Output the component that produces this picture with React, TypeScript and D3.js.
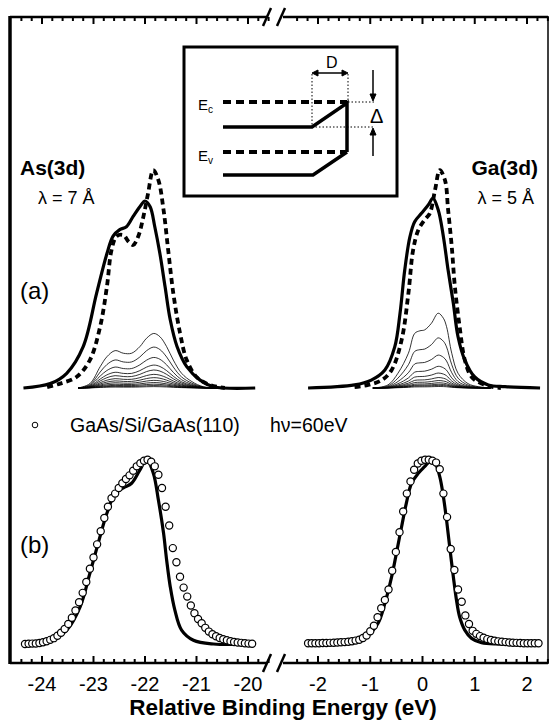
import React from "react";
import * as d3 from "d3";

// ---- panel (a): As(3d) ----
const asSolidE = [-24.36, -23.84, -23.52, -23.2, -22.94, -22.74, -22.62, -22.49, -22.36, -22.23, -22.1, -22.0, -21.9, -21.81, -21.71, -21.61, -21.51, -21.38, -21.19, -20.93, -20.67, -19.86];
const asSolidI = [0, 0.02, 0.067, 0.188, 0.43, 0.61, 0.69, 0.72, 0.733, 0.78, 0.824, 0.85, 0.824, 0.733, 0.61, 0.46, 0.31, 0.19, 0.097, 0.036, 0.006, 0];
const asDashE = [-23.9, -23.65, -23.33, -23.07, -22.87, -22.74, -22.65, -22.55, -22.42, -22.32, -22.23, -22.13, -22.03, -21.94, -21.84, -21.74, -21.64, -21.55, -21.45, -21.32, -21.19, -21.0, -20.8, -20.61, -20.45];
const asDashI = [0.004, 0.02, 0.05, 0.127, 0.28, 0.46, 0.627, 0.69, 0.695, 0.665, 0.65, 0.69, 0.78, 0.885, 0.99, 0.945, 0.81, 0.627, 0.43, 0.25, 0.127, 0.05, 0.02, 0.006, 0];
const asThinE = [-23.3, -23.07, -22.87, -22.74, -22.58, -22.42, -22.26, -22.1, -21.97, -21.83, -21.71, -21.58, -21.45, -21.29, -21.09, -20.87, -20.6];
const asThinI = [0, 0.02, 0.097, 0.142, 0.17, 0.158, 0.158, 0.188, 0.226, 0.248, 0.233, 0.188, 0.127, 0.067, 0.029, 0.006, 0];
const asThinScale = [1, 0.75, 0.56, 0.42, 0.33, 0.25, 0.19, 0.14, 0.1, 0.07, 0.045, 0.025];

// ---- panel (a): Ga(3d) ----
const gaSolidE = [-2.19, -1.3, -0.98, -0.72, -0.53, -0.43, -0.34, -0.24, -0.15, -0.02, 0.11, 0.2, 0.3, 0.4, 0.49, 0.59, 0.68, 0.81, 1.0, 1.26, 1.58, 2.25];
const gaSolidI = [0, 0.014, 0.036, 0.082, 0.188, 0.34, 0.536, 0.688, 0.756, 0.794, 0.832, 0.862, 0.81, 0.688, 0.536, 0.385, 0.233, 0.127, 0.05, 0.014, 0.006, 0];
const gaDashE = [-1.3, -1.04, -0.78, -0.59, -0.4, -0.27, -0.18, -0.08, 0.04, 0.14, 0.24, 0.33, 0.43, 0.49, 0.56, 0.62, 0.71, 0.81, 0.94, 1.13, 1.32, 1.5];
const gaDashI = [0.004, 0.014, 0.036, 0.082, 0.218, 0.43, 0.627, 0.718, 0.764, 0.794, 0.9, 0.99, 0.945, 0.81, 0.642, 0.46, 0.28, 0.127, 0.05, 0.02, 0.006, 0];
const gaThinE = [-0.95, -0.66, -0.47, -0.27, -0.15, -0.05, 0.04, 0.17, 0.3, 0.4, 0.46, 0.56, 0.68, 0.87, 1.07, 1.3];
const gaThinI = [0, 0.014, 0.067, 0.158, 0.248, 0.26, 0.264, 0.294, 0.34, 0.317, 0.279, 0.158, 0.067, 0.02, 0.006, 0];
const gaThinScale = [1, 0.67, 0.44, 0.29, 0.2, 0.14, 0.1, 0.07, 0.05, 0.035, 0.02];

// ---- panel (b) ----
const asFitE = [-24.33, -23.84, -23.52, -23.26, -23.07, -22.91, -22.74, -22.58, -22.42, -22.26, -22.1, -21.97, -21.84, -21.74, -21.64, -21.58, -21.51, -21.42, -21.29, -21.06, -20.67, -19.9];
const asFitI = [0, 0.02, 0.074, 0.198, 0.376, 0.535, 0.695, 0.8, 0.83, 0.855, 0.925, 0.98, 0.91, 0.766, 0.59, 0.447, 0.305, 0.18, 0.074, 0.02, 0, 0];
const gaFitE = [-2.19, -1.61, -1.3, -1.04, -0.85, -0.72, -0.59, -0.5, -0.4, -0.31, -0.21, -0.08, 0.04, 0.14, 0.24, 0.33, 0.4, 0.46, 0.52, 0.59, 0.65, 0.71, 0.81, 0.94, 1.13, 1.45, 2.21];
const gaFitI = [0, 0, 0.012, 0.048, 0.11, 0.216, 0.358, 0.482, 0.624, 0.748, 0.855, 0.908, 0.943, 0.97, 0.961, 0.89, 0.783, 0.66, 0.518, 0.358, 0.234, 0.145, 0.074, 0.03, 0.007, 0, 0];

// measured points (open circles), 0.07 eV steps
const asDotStart = -24.33;
const gaDotStart = -2.19;
const dotStep = 0.07;
const asDotI = [0, 0.001, 0.002, 0.003, 0.005, 0.009, 0.015, 0.022, 0.031, 0.044, 0.06, 0.08, 0.107, 0.14, 0.178, 0.222, 0.272, 0.33, 0.4, 0.46, 0.53, 0.6, 0.67, 0.73, 0.775, 0.8, 0.83, 0.855, 0.878, 0.897, 0.922, 0.945, 0.962, 0.975, 0.98, 0.97, 0.945, 0.9, 0.83, 0.73, 0.63, 0.51, 0.435, 0.358, 0.3, 0.252, 0.205, 0.164, 0.133, 0.11, 0.086, 0.066, 0.052, 0.041, 0.032, 0.025, 0.02, 0.015, 0.011, 0.008, 0.006, 0.004, 0.002, 0.001];
const gaDotI = [0.004, 0.004, 0.004, 0.004, 0.005, 0.005, 0.006, 0.007, 0.008, 0.009, 0.01, 0.012, 0.015, 0.018, 0.023, 0.032, 0.045, 0.068, 0.097, 0.142, 0.19, 0.234, 0.29, 0.39, 0.49, 0.595, 0.705, 0.8, 0.865, 0.927, 0.96, 0.975, 0.98, 0.98, 0.975, 0.965, 0.93, 0.8, 0.675, 0.505, 0.394, 0.29, 0.225, 0.152, 0.106, 0.07, 0.054, 0.042, 0.033, 0.026, 0.021, 0.017, 0.014, 0.012, 0.01, 0.008, 0.007, 0.006, 0.005, 0.004, 0.004, 0.004, 0.004, 0.004];

const leftTicks = [-24, -23, -22, -21, -20];
const rightTicks = [-2, -1, 0, 1, 2];

const FONT = "'Liberation Sans', Arial, Helvetica, sans-serif";

const xL = d3.scaleLinear().domain([-24, -20]).range([42, 248]);
const xR = d3.scaleLinear().domain([-2, 2]).range([318, 527]);
const yA = d3.scaleLinear().domain([0, 1]).range([388, 168]);
const yB = d3.scaleLinear().domain([0, 1]).range([644, 456]);

const mkLine = (x: d3.ScaleLinear<number, number>, y: d3.ScaleLinear<number, number>) =>
  d3
    .line<[number, number]>()
    .x((d) => x(d[0]))
    .y((d) => y(d[1]))
    .curve(d3.curveCatmullRom.alpha(0.5));

const zip = (e: number[], v: number[], k = 1): [number, number][] => e.map((d, i) => [d, v[i] * k]);

const TOP = 17;
const BOT = 663;
const LEFT = 10;
const RIGHT = 548;
const BREAK_L = 267;
const BREAK_R = 283;

const Axis = ({ y, dir }: { y: number; dir: 1 | -1 }) => {
  const minorL = d3.range(-24.4, -19.55, 0.2);
  const minorR = d3.range(-2.4, 2.45, 0.2);
  const ticks: { x: number; major: boolean }[] = [
    ...minorL.map((v) => ({ x: xL(v), major: Math.abs(v - Math.round(v)) < 0.01 })),
    ...minorR.map((v) => ({ x: xR(v), major: Math.abs(v - Math.round(v)) < 0.01 })),
  ];
  return (
    <g>
      <line x1={LEFT} x2={BREAK_L} y1={y} y2={y} stroke="#000" strokeWidth={2.5} />
      <line x1={BREAK_R} x2={RIGHT} y1={y} y2={y} stroke="#000" strokeWidth={2.5} />
      {ticks.map((t, i) => (
        <line key={i} x1={t.x} x2={t.x} y1={y} y2={y + dir * (t.major ? 7 : 4)} stroke="#000" strokeWidth={2} />
      ))}
      <line x1={BREAK_L - 4} y1={y + 9} x2={BREAK_L + 4} y2={y - 9} stroke="#000" strokeWidth={2.5} />
      <line x1={BREAK_R - 6} y1={y + 9} x2={BREAK_R + 2} y2={y - 9} stroke="#000" strokeWidth={2.5} />
    </g>
  );
};

const Inset = () => (
  <g fill="none" stroke="#000">
    <rect x={184} y={47} width={213} height={149} strokeWidth={3} />
    {/* dotted guides */}
    <g strokeWidth={1} strokeDasharray="1.5,2">
      <line x1={312} y1={74} x2={312} y2={127} />
      <line x1={348} y1={74} x2={348} y2={102} />
      <line x1={348} y1={102} x2={374} y2={102} />
      <line x1={312} y1={127} x2={374} y2={127} />
    </g>
    {/* Ec, Ev dashed */}
    <g strokeWidth={4} strokeDasharray="8,5">
      <line x1={223} y1={102} x2={347} y2={102} />
      <line x1={223} y1={152} x2={347} y2={152} />
    </g>
    <polyline points="223,127 312,127 347,103 347,152" strokeWidth={3.5} />
    <polyline points="223,175 313,175 347,152" strokeWidth={3.5} />
    {/* D arrow */}
    <line x1={315} y1={73} x2={345} y2={73} strokeWidth={1.5} />
    <path d="M312,73 l6,-3 v6 z M348,73 l-6,-3 v6 z" fill="#000" strokeWidth={1} />
    {/* delta arrows */}
    <line x1={373} y1={70} x2={373} y2={96} strokeWidth={1.5} />
    <path d="M373,101 l-3,-7 h6 z" fill="#000" strokeWidth={1} />
    <line x1={373} y1={132} x2={373} y2={156} strokeWidth={1.5} />
    <path d="M373,128 l-3,7 h6 z" fill="#000" strokeWidth={1} />
    <g fill="#000" stroke="none" fontFamily={FONT}>
      <text x={326} y={68} fontSize={16}>D</text>
      <text x={370} y={123} fontSize={20}>Δ</text>
      <text x={198} y={110} fontSize={15}>E<tspan fontSize={10} dy={3}>c</tspan></text>
      <text x={198} y={161} fontSize={15}>E<tspan fontSize={10} dy={3}>v</tspan></text>
    </g>
  </g>
);

export default function App() {
  const lAa = mkLine(xL, yA);
  const lRa = mkLine(xR, yA);
  const lAb = mkLine(xL, yB);
  const lRb = mkLine(xR, yB);

  const asDots = asDotI.map((v, i) => [asDotStart + i * dotStep, v] as [number, number]);
  const gaDots = gaDotI.map((v, i) => [gaDotStart + i * dotStep, v] as [number, number]);

  return (
    <svg width={550} height={723} style={{ position: "absolute", left: 0, top: 0, background: "#fff" }} fontFamily={FONT}>
      <rect x={0} y={0} width={550} height={723} fill="#fff" />
      {/* frame */}
      <line x1={LEFT} x2={LEFT} y1={TOP - 1} y2={BOT + 1} stroke="#000" strokeWidth={3.5} />
      <line x1={RIGHT} x2={RIGHT} y1={TOP - 1} y2={BOT + 1} stroke="#000" strokeWidth={1.5} />
      <Axis y={TOP} dir={1} />
      <Axis y={BOT} dir={-1} />

      <Inset />

      {/* panel (a) thin curves */}
      <g fill="none" stroke="#000" strokeWidth={0.8}>
        {asThinScale.map((k, i) => (
          <path key={"at" + i} d={lAa(zip(asThinE, asThinI, k)) || ""} />
        ))}
        {gaThinScale.map((k, i) => (
          <path key={"gt" + i} d={lRa(zip(gaThinE, gaThinI, k)) || ""} />
        ))}
      </g>
      <g fill="none" stroke="#000" strokeWidth={3.2} strokeLinejoin="round">
        <path d={lAa(zip(asSolidE, asSolidI)) || ""} />
        <path d={lRa(zip(gaSolidE, gaSolidI)) || ""} />
      </g>
      <g fill="none" stroke="#000" strokeWidth={3.8} strokeDasharray="6,4">
        <path d={lAa(zip(asDashE, asDashI)) || ""} />
        <path d={lRa(zip(gaDashE, gaDashI)) || ""} />
      </g>

      {/* panel (b) */}
      <g fill="none" stroke="#000" strokeWidth={3.2} strokeLinejoin="round">
        <path d={lAb(zip(asFitE, asFitI)) || ""} />
        <path d={lRb(zip(gaFitE, gaFitI)) || ""} />
      </g>
      <g fill="#fff" stroke="#000" strokeWidth={1.2}>
        {asDots.map((d, i) => (
          <circle key={"ad" + i} cx={xL(d[0])} cy={yB(d[1])} r={3.6} />
        ))}
        {gaDots.map((d, i) => (
          <circle key={"gd" + i} cx={xR(d[0])} cy={yB(d[1])} r={3.6} />
        ))}
      </g>

      {/* labels */}
      <text x={20} y={175} fontSize={21} fontWeight="bold">As(3d)</text>
      <text x={38} y={204} fontSize={18}>λ = 7 Å</text>
      <text x={538} y={175} fontSize={21} fontWeight="bold" textAnchor="end">Ga(3d)</text>
      <text x={534} y={204} fontSize={18} textAnchor="end">λ = 5 Å</text>
      <text x={20} y={299} fontSize={24}>(a)</text>
      <text x={20} y={553} fontSize={24}>(b)</text>

      <circle cx={35} cy={425} r={2.8} fill="#fff" stroke="#000" strokeWidth={1} />
      <text x={70} y={432} fontSize={19.5}>GaAs/Si/GaAs(110)</text>
      <text x={270} y={432} fontSize={19.5}>hν=60eV</text>

      {/* tick labels */}
      {leftTicks.map((t) => (
        <text key={"lt" + t} x={xL(t)} y={691} fontSize={20} textAnchor="middle">{t}</text>
      ))}
      {rightTicks.map((t) => (
        <text key={"rt" + t} x={xR(t)} y={691} fontSize={20} textAnchor="middle">{t}</text>
      ))}
      <text x={283} y={715} fontSize={22.5} fontWeight="bold" textAnchor="middle">Relative Binding Energy (eV)</text>
    </svg>
  );
}
